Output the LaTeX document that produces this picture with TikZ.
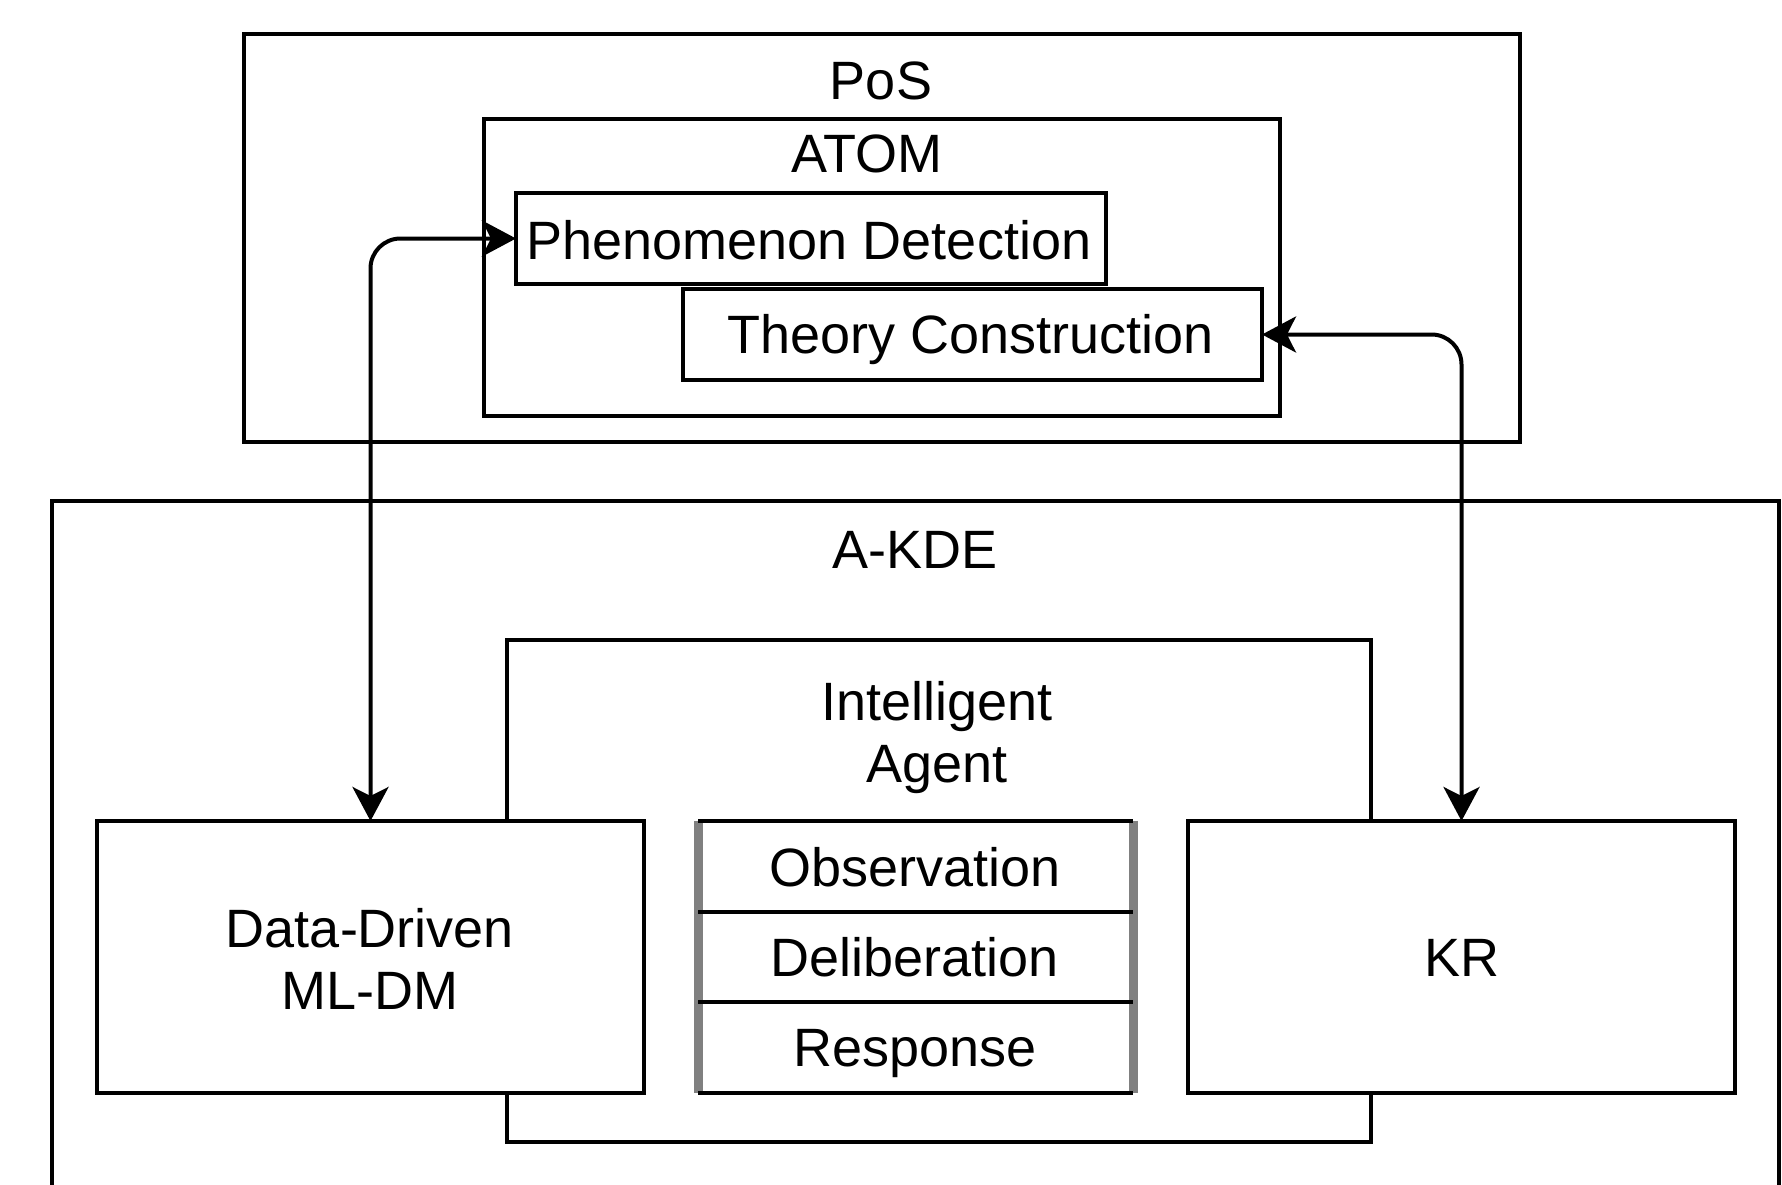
\documentclass[tikz,border=0pt]{standalone}
\usepackage{fontspec}
\setmainfont{Liberation Sans}
\usetikzlibrary{arrows.meta}
\begin{document}
\begin{tikzpicture}[x=1pt,y=-1pt,
  box/.style={draw=black, line width=4pt, inner sep=0pt, outer sep=0pt},
  row/.style={inner sep=0pt, outer sep=0pt, minimum width=435pt, minimum height=91pt},
  lbl/.style={inner sep=0pt, anchor=base, font=\fontsize{54}{61}\selectfont},
  tipx/.tip={Stealth[length=34pt,width=36pt,inset=9pt]},
  arr/.style={line width=4pt, tipx-tipx, rounded corners=30pt}]
\useasboundingbox (0,0) rectangle (1782,1185);
% PoS
\node[box, minimum width=1276pt, minimum height=408pt] (pos) at (882,238) {};
\node[lbl] (posl) at (881,100) {PoS};
\node[box, minimum width=796pt, minimum height=297pt] (atom) at (882,267.5) {};
\node[lbl] (atoml) at (867,173) {ATOM};
\node[box, minimum width=590pt, minimum height=91pt] (pd) at (811,238.5) {};
\node[lbl] (pdl) at (809,259) {Phenomenon Detection};
\node[box, minimum width=579pt, minimum height=91pt] (tc) at (972.5,334.5) {};
\node[lbl] (tcl) at (971,353) {Theory Construction};
% A-KDE
\draw[line width=4pt] (52,1200) -- (52,501) -- (1779,501) -- (1779,1200);
\node[lbl] (akdel) at (915,568) {A-KDE};
\node[box, minimum width=864pt, minimum height=502pt] (ia) at (939,891) {};
\node[lbl] (ial1) at (937,720) {Intelligent};
\node[lbl] (ial2) at (937,782) {Agent};
\node[box, fill=white, minimum width=547pt, minimum height=272pt] (dd) at (370.5,957) {};
\node[lbl] (ddl1) at (370,947) {Data-Driven};
\node[lbl] (ddl2) at (370,1009) {ML-DM};
\node[box, fill=white, minimum width=547pt, minimum height=272pt] (kr) at (1461.5,957) {};
\node[lbl] (krl) at (1462,976) {KR};
% stack
\fill[white] (698,821) rectangle (1133,1093);
\node[row] (obs) at (915.5,866) {};
\node[row] (del) at (915.5,956.5) {};
\node[row] (res) at (915.5,1047.5) {};
\draw[line width=9pt, draw={rgb,255:red,128;green,128;blue,128}] (obs.north west) -- (res.south west) (obs.north east) -- (res.south east);
\draw[line width=4pt] (obs.north west) -- (obs.north east)
  (obs.south west) -- (obs.south east)
  (del.south west) -- (del.south east)
  (res.south west) -- (res.south east);
\node[lbl] (obsl) at (915,886) {Observation};
\node[lbl] (dell) at (915,976) {Deliberation};
\node[lbl] (resl) at (915,1066) {Response};
% connectors
\draw[arr] (dd.north) -- (dd.north |- pd.west) -- (pd.west);
\draw[arr] (tc.east) -- (tc.east -| kr.north) -- (kr.north);
\end{tikzpicture}
\end{document}
